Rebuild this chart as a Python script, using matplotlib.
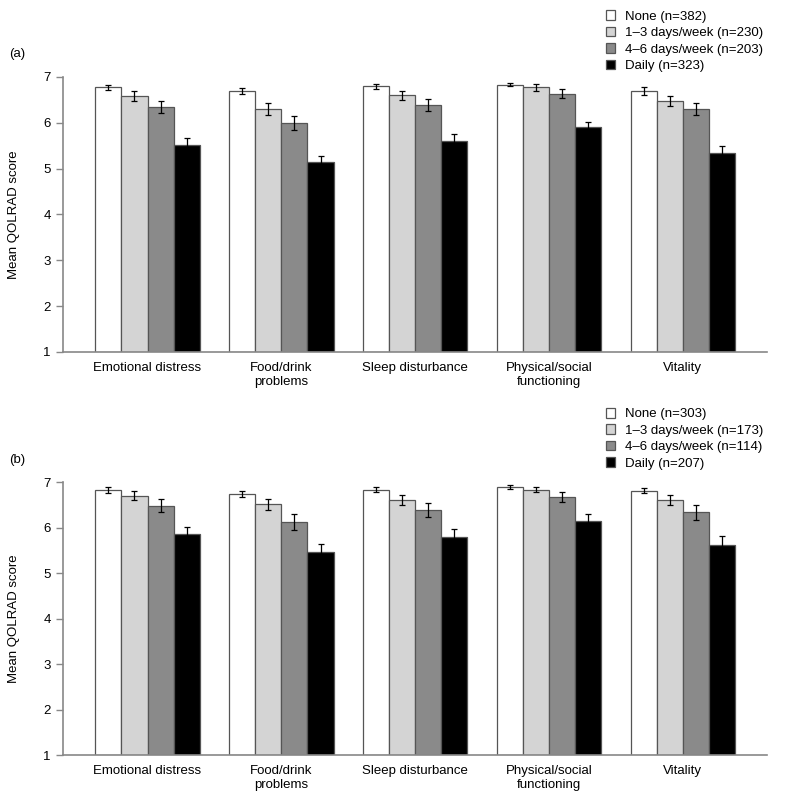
import numpy as np
import matplotlib
matplotlib.use("Agg")
import matplotlib.pyplot as plt
from matplotlib.patches import Patch

plt.rcParams['font.family'] = ['Liberation Sans', 'DejaVu Sans']
plt.rcParams['font.size'] = 9.5

categories = ["Emotional distress", "Food/drink\nproblems", "Sleep disturbance",
              "Physical/social\nfunctioning", "Vitality"]
groups = ["None", "1\u20133 days/week", "4\u20136 days/week", "Daily"]
colors = ["white", "#d4d4d4", "#8a8a8a", "black"]

# panel (a)
n_a = [382, 230, 203, 323]
means_a = [
    [6.77, 6.69, 6.79, 6.83, 6.69],   # None
    [6.58, 6.30, 6.60, 6.77, 6.47],   # 1-3 days/week
    [6.34, 5.99, 6.39, 6.63, 6.29],   # 4-6 days/week
    [5.51, 5.14, 5.60, 5.90, 5.34],   # Daily
]
err_a = [
    [0.05, 0.06, 0.05, 0.04, 0.08],
    [0.11, 0.13, 0.10, 0.07, 0.11],
    [0.14, 0.15, 0.13, 0.10, 0.13],
    [0.15, 0.14, 0.15, 0.12, 0.15],
]

# panel (b)
n_b = [303, 173, 114, 207]
means_b = [
    [6.83, 6.75, 6.84, 6.90, 6.82],
    [6.71, 6.52, 6.62, 6.84, 6.62],
    [6.49, 6.13, 6.39, 6.68, 6.34],
    [5.86, 5.46, 5.79, 6.15, 5.63],
]
err_b = [
    [0.06, 0.07, 0.06, 0.04, 0.06],
    [0.10, 0.12, 0.11, 0.06, 0.11],
    [0.15, 0.18, 0.16, 0.11, 0.16],
    [0.17, 0.18, 0.18, 0.15, 0.20],
]

fig = plt.figure(figsize=(8, 8), dpi=100)
ax_a = fig.add_axes([0.079, 0.56, 0.88, 0.344])
ax_b = fig.add_axes([0.079, 0.0559, 0.88, 0.341])

width = 0.195
x = np.arange(len(categories))


def draw_panel(ax, means, errs, ns, label, leg_top):
    for i in range(len(groups)):
        pos = x + (i - 1.5) * width
        ax.bar(pos, np.array(means[i]) - 1, width, bottom=1, color=colors[i],
               edgecolor="#555555", linewidth=0.9, zorder=2)
        ax.errorbar(pos, means[i], yerr=errs[i], fmt="none", ecolor="black",
                    elinewidth=0.9, capsize=2.5, capthick=0.9, zorder=3)
    ax.set_xlim(-0.63, len(categories) - 1 + 0.63)
    ax.set_ylim(1, 7)
    ax.set_yticks(range(1, 8))
    ax.set_xticks(x)
    ax.set_xticklabels(categories)
    ax.tick_params(axis="x", length=0, pad=7)
    ax.tick_params(axis="y", length=5, width=1, color="#888888", pad=4)
    for s in ["top", "right"]:
        ax.spines[s].set_visible(False)
    for s in ["left", "bottom"]:
        ax.spines[s].set_color("#888888")
        ax.spines[s].set_linewidth(1.2)
    ax.set_ylabel("Mean QOLRAD score", labelpad=8)
    ax.yaxis.set_label_coords(-0.062, 0.5)

    bbox = ax.get_position()
    fig.text(0.011, bbox.y1 + 0.028, label, fontsize=9.5, va="center")

    handles = [Patch(facecolor=c, edgecolor="#555555", linewidth=0.9) for c in colors]
    labels = [f"{g} (n={n})" for g, n in zip(groups, ns)]
    fig.legend(handles, labels, loc="upper left", bbox_to_anchor=(0.757, leg_top),
               frameon=False, handlelength=0.75, handleheight=0.75,
               handletextpad=0.75, labelspacing=0.3, borderpad=0,
               borderaxespad=0, fontsize=9.5)


draw_panel(ax_a, means_a, err_a, n_a, "(a)", 0.987)
draw_panel(ax_b, means_b, err_b, n_b, "(b)", 0.490)

fig.savefig("out.png", dpi=100)
